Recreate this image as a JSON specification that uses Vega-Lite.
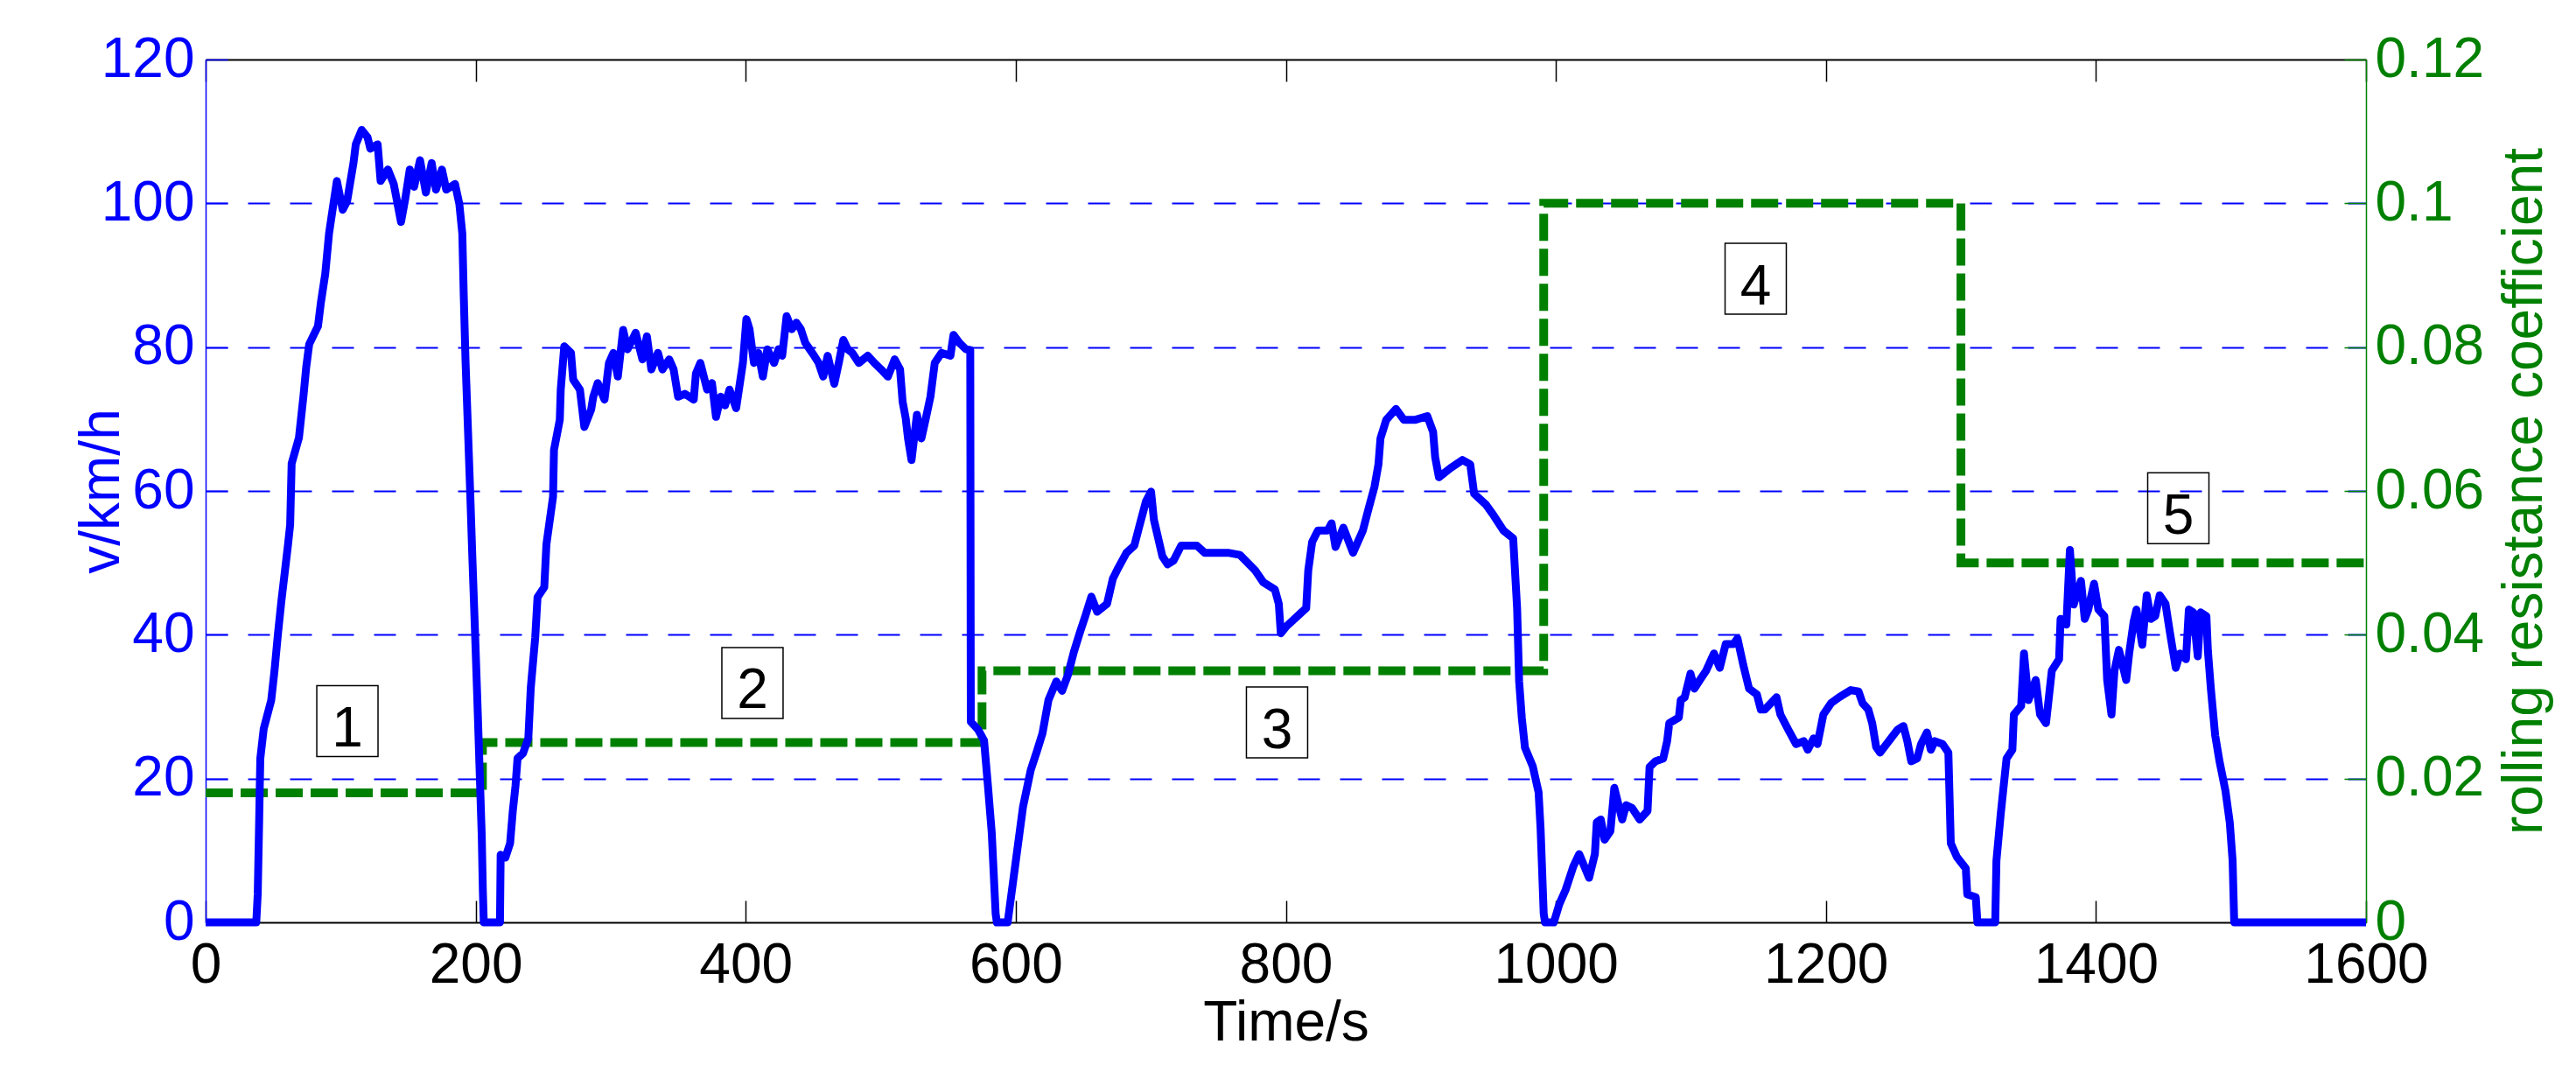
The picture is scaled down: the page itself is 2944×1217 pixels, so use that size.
{
  "$schema": "https://vega.github.io/schema/vega-lite/v6.json",
  "width": 2469,
  "height": 986,
  "autosize": {"type": "none"},
  "padding": {"left": 235, "top": 68, "right": 240, "bottom": 163},
  "background": "white",
  "config": {
    "font": "Liberation Sans",
    "view": {"stroke": null},
    "axis": {"labelFont": "Liberation Sans", "titleFont": "Liberation Sans", "labelFontSize": 64, "titleFontSize": 64, "titleFontWeight": "normal", "labelOverlap": false, "labelFlush": false, "labelBound": false}
  },
  "datasets": {
    "speed": [
      {"t":0,"v":0},{"t":37.5,"v":0},{"t":38.6,"v":4},{"t":39.5,"v":12.7},{"t":40.5,"v":22.8},{"t":43,"v":26.9},{"t":48.6,"v":30.9},{"t":51,"v":35},{"t":53.5,"v":40},{"t":56,"v":44.5},{"t":58.5,"v":48.5},{"t":61,"v":52.5},{"t":62.6,"v":55.3},{"t":63.7,"v":63.8},{"t":69.1,"v":67.4},{"t":72.4,"v":73.1},{"t":74.5,"v":77.2},{"t":76.7,"v":80.4},{"t":83.2,"v":82.9},{"t":85.3,"v":86.1},{"t":88.6,"v":90.2},{"t":91.4,"v":95.8},{"t":94,"v":99.1},{"t":97.2,"v":103.1},{"t":101.5,"v":99.1},{"t":104.8,"v":100.3},{"t":106.9,"v":102.7},{"t":109.5,"v":105.6},{"t":111.2,"v":108.2},{"t":115.6,"v":110.2},{"t":119.9,"v":109.2},{"t":122,"v":107.6},{"t":127.4,"v":108.2},{"t":129.6,"v":103.1},{"t":135,"v":104.7},{"t":139.3,"v":102.7},{"t":144.7,"v":97.4},{"t":147.9,"v":100.7},{"t":151.2,"v":104.7},{"t":154.4,"v":102.3},{"t":158.8,"v":106},{"t":163.1,"v":101.5},{"t":167.4,"v":105.6},{"t":170.6,"v":101.9},{"t":175,"v":104.7},{"t":178.2,"v":101.9},{"t":184.7,"v":102.7},{"t":187.9,"v":99.9},{"t":190.1,"v":95.8},{"t":191.2,"v":87},{"t":192.5,"v":78},{"t":194.2,"v":69},{"t":196,"v":59.5},{"t":197.5,"v":51},{"t":199.3,"v":41.5},{"t":201.1,"v":31.7},{"t":202.8,"v":21.9},{"t":204.5,"v":12},{"t":205.3,"v":4.5},{"t":206,"v":0},{"t":218,"v":0},{"t":218.5,"v":9.4},{"t":222,"v":9},{"t":225.5,"v":11},{"t":227.5,"v":15.5},{"t":229.5,"v":19},{"t":231,"v":22.8},{"t":235,"v":23.5},{"t":239,"v":25.6},{"t":240.8,"v":32.6},{"t":244.1,"v":39.6},{"t":245.8,"v":45.2},{"t":250.8,"v":46.6},{"t":252.4,"v":52.6},{"t":257.3,"v":59.2},{"t":258,"v":65.7},{"t":262.3,"v":69.9},{"t":263,"v":74.1},{"t":265.6,"v":80.1},{"t":270.6,"v":79.2},{"t":272.2,"v":75.5},{"t":277.2,"v":74.1},{"t":280.5,"v":68.9},{"t":285.5,"v":71.3},{"t":287.1,"v":73.1},{"t":290.4,"v":75},{"t":295.4,"v":72.7},{"t":298.7,"v":77.8},{"t":302,"v":79.2},{"t":305.3,"v":75.9},{"t":309.2,"v":82.4},{"t":312.5,"v":79.7},{"t":318.5,"v":82},{"t":323.5,"v":78.3},{"t":326.8,"v":81.5},{"t":330.1,"v":76.9},{"t":335,"v":79.2},{"t":338.3,"v":76.9},{"t":343.3,"v":78.3},{"t":346.6,"v":76.9},{"t":349.9,"v":73.1},{"t":354.9,"v":73.5},{"t":361.5,"v":72.7},{"t":363.1,"v":76.3},{"t":366.4,"v":77.8},{"t":371.4,"v":74.1},{"t":375,"v":75},{"t":378,"v":70.3},{"t":381.5,"v":73.1},{"t":384.7,"v":71.9},{"t":388,"v":74.1},{"t":392.9,"v":71.5},{"t":397.9,"v":77.8},{"t":400.5,"v":83.9},{"t":402.8,"v":82.5},{"t":406.1,"v":77.8},{"t":409.4,"v":79.2},{"t":412.7,"v":75.9},{"t":416,"v":79.7},{"t":421,"v":77.8},{"t":424.3,"v":79.7},{"t":427,"v":78.8},{"t":430.3,"v":84.3},{"t":434.1,"v":82.5},{"t":437.5,"v":83.4},{"t":440.8,"v":82.5},{"t":444.1,"v":80.6},{"t":447.4,"v":79.7},{"t":450.7,"v":78.8},{"t":454,"v":77.8},{"t":457.4,"v":75.9},{"t":460.7,"v":78.8},{"t":465.6,"v":74.9},{"t":468.9,"v":77.8},{"t":472.3,"v":81},{"t":475.6,"v":79.7},{"t":478.9,"v":79.2},{"t":483.8,"v":77.8},{"t":490.4,"v":78.8},{"t":495.3,"v":77.8},{"t":500.3,"v":76.9},{"t":505.3,"v":75.9},{"t":510.3,"v":78.3},{"t":514.3,"v":76.9},{"t":516.2,"v":72.4},{"t":518.5,"v":70.1},{"t":520.2,"v":67.3},{"t":522.8,"v":64.3},{"t":526.8,"v":70.6},{"t":530.1,"v":67.3},{"t":533.4,"v":70.1},{"t":536.8,"v":73.1},{"t":540,"v":77.8},{"t":545,"v":79.2},{"t":551.6,"v":78.8},{"t":553.9,"v":81.7},{"t":558.2,"v":80.6},{"t":563.1,"v":79.7},{"t":566.3,"v":79.6},{"t":566.7,"v":27.9},{"t":572.1,"v":26.8},{"t":576.5,"v":25.3},{"t":579.3,"v":19.2},{"t":582.2,"v":12.5},{"t":585.1,"v":1.2},{"t":586,"v":0},{"t":594,"v":0},{"t":598.1,"v":5.8},{"t":601,"v":9.9},{"t":605.4,"v":16.1},{"t":611.1,"v":21.2},{"t":615.5,"v":23.7},{"t":619.8,"v":26.3},{"t":624.2,"v":30.9},{"t":630,"v":33.5},{"t":634.3,"v":32.2},{"t":638.6,"v":34.4},{"t":643,"v":37.6},{"t":647.3,"v":40.2},{"t":651.7,"v":42.7},{"t":656,"v":45.3},{"t":660.3,"v":43.2},{"t":667.6,"v":44.3},{"t":671.9,"v":47.8},{"t":676.2,"v":49.4},{"t":682,"v":51.4},{"t":687.8,"v":52.4},{"t":692.1,"v":55.5},{"t":696.5,"v":58.6},{"t":700.2,"v":59.9},{"t":702.3,"v":56},{"t":708.6,"v":50.9},{"t":712.4,"v":49.8},{"t":716.8,"v":50.3},{"t":722.5,"v":52.4},{"t":734.1,"v":52.4},{"t":739.9,"v":51.4},{"t":757.2,"v":51.4},{"t":766,"v":51.1},{"t":777.5,"v":48.9},{"t":783.3,"v":47.3},{"t":791.9,"v":46.3},{"t":794.8,"v":44.3},{"t":796.3,"v":40.2},{"t":800.6,"v":41.2},{"t":809.3,"v":42.7},{"t":815.1,"v":43.7},{"t":816.6,"v":48.9},{"t":819.5,"v":52.9},{"t":823.8,"v":54.5},{"t":831,"v":54.5},{"t":833.9,"v":55.5},{"t":836.8,"v":52.2},{"t":842.6,"v":54.9},{"t":849.8,"v":51.4},{"t":857.1,"v":54.5},{"t":861.4,"v":57.6},{"t":865.7,"v":60.6},{"t":868.6,"v":63.7},{"t":870.1,"v":67.3},{"t":874.4,"v":69.9},{"t":881.6,"v":71.4},{"t":887.4,"v":69.9},{"t":896.1,"v":69.9},{"t":904.8,"v":70.4},{"t":909.1,"v":68.2},{"t":910.6,"v":64.7},{"t":913.4,"v":61.9},{"t":922.1,"v":63.2},{"t":930.8,"v":64.3},{"t":936.6,"v":63.7},{"t":939.5,"v":59.6},{"t":948.2,"v":58.1},{"t":953.9,"v":56.6},{"t":961.2,"v":54.5},{"t":968.4,"v":53.4},{"t":970,"v":48},{"t":971.3,"v":43.7},{"t":972.8,"v":33.5},{"t":974.8,"v":28.4},{"t":977.1,"v":24.3},{"t":982.9,"v":21.7},{"t":987.2,"v":18.1},{"t":988.7,"v":13},{"t":991,"v":1.2},{"t":992,"v":0},{"t":998.5,"v":0},{"t":1002.5,"v":2.5},{"t":1007.2,"v":4.5},{"t":1013,"v":7.8},{"t":1017.3,"v":9.5},{"t":1024.6,"v":6.2},{"t":1028.9,"v":9.5},{"t":1030.3,"v":13.9},{"t":1033.3,"v":14.3},{"t":1036.1,"v":11.5},{"t":1040.4,"v":12.7},{"t":1043.3,"v":18.7},{"t":1049.1,"v":14.3},{"t":1052,"v":16.3},{"t":1056.4,"v":15.9},{"t":1062.1,"v":14.3},{"t":1067.9,"v":15.5},{"t":1069.4,"v":21.6},{"t":1073.7,"v":22.4},{"t":1079.5,"v":22.8},{"t":1082.4,"v":25.2},{"t":1084,"v":27.7},{"t":1091.1,"v":28.5},{"t":1092.5,"v":30.9},{"t":1095.4,"v":31.3},{"t":1099.7,"v":34.6},{"t":1102.6,"v":32.5},{"t":1107,"v":33.8},{"t":1111.3,"v":35},{"t":1117.1,"v":37.4},{"t":1121.4,"v":35.4},{"t":1125.8,"v":38.7},{"t":1131.6,"v":38.7},{"t":1134.5,"v":39.5},{"t":1138.8,"v":35.8},{"t":1143.1,"v":32.5},{"t":1148.9,"v":31.7},{"t":1151.8,"v":29.6},{"t":1154.7,"v":29.6},{"t":1163.4,"v":31.3},{"t":1166.3,"v":28.9},{"t":1172.1,"v":26.8},{"t":1177.9,"v":24.8},{"t":1183.6,"v":25.2},{"t":1186.6,"v":24},{"t":1190.9,"v":25.6},{"t":1193.8,"v":24.8},{"t":1198.1,"v":28.9},{"t":1203.9,"v":30.5},{"t":1209.7,"v":31.3},{"t":1218.4,"v":32.3},{"t":1224.2,"v":32.1},{"t":1227.1,"v":30.5},{"t":1231.4,"v":29.6},{"t":1234.3,"v":27.7},{"t":1237.2,"v":24.4},{"t":1240.1,"v":23.6},{"t":1253.1,"v":26.8},{"t":1257.4,"v":27.3},{"t":1260.3,"v":25.2},{"t":1263.2,"v":22.4},{"t":1267.6,"v":22.8},{"t":1270.5,"v":24.8},{"t":1274.8,"v":26.4},{"t":1277.7,"v":24},{"t":1280.6,"v":25.2},{"t":1286.4,"v":24.8},{"t":1290.7,"v":23.6},{"t":1292.5,"v":11},{"t":1297,"v":9.1},{"t":1303.6,"v":7.5},{"t":1304.7,"v":3.9},{"t":1311,"v":3.5},{"t":1312.2,"v":0},{"t":1325.4,"v":0},{"t":1326.3,"v":8.6},{"t":1329.5,"v":15.1},{"t":1333.8,"v":22.8},{"t":1338.1,"v":24},{"t":1339.2,"v":28.9},{"t":1344.6,"v":30.1},{"t":1346.7,"v":37.4},{"t":1350,"v":30.9},{"t":1355.4,"v":33.7},{"t":1358.6,"v":28.9},{"t":1363,"v":27.7},{"t":1367.3,"v":35},{"t":1372.7,"v":36.6},{"t":1373.8,"v":42.2},{"t":1378.1,"v":41.4},{"t":1380.7,"v":51.8},{"t":1383.5,"v":44.2},{"t":1388.9,"v":47.5},{"t":1391.7,"v":42.2},{"t":1394.3,"v":43.5},{"t":1398.6,"v":47.1},{"t":1401.8,"v":43.5},{"t":1406.2,"v":42.6},{"t":1408.3,"v":33.7},{"t":1411.5,"v":28.9},{"t":1413.7,"v":35},{"t":1417,"v":37.9},{"t":1422.4,"v":33.7},{"t":1424.6,"v":37.4},{"t":1427.9,"v":41.8},{"t":1430,"v":43.5},{"t":1434.3,"v":38.6},{"t":1437.6,"v":45.5},{"t":1440.7,"v":42.2},{"t":1443.9,"v":42.6},{"t":1447.2,"v":45.5},{"t":1451.5,"v":44.3},{"t":1454.8,"v":40.3},{"t":1459.1,"v":35.4},{"t":1462.3,"v":37.4},{"t":1466.7,"v":36.6},{"t":1468.8,"v":43.5},{"t":1472.1,"v":43.1},{"t":1475.4,"v":37},{"t":1477.5,"v":43.1},{"t":1481.8,"v":42.6},{"t":1482.9,"v":37.8},{"t":1485.1,"v":32.5},{"t":1488.3,"v":26},{"t":1491.5,"v":22.4},{"t":1495.9,"v":18.3},{"t":1499.1,"v":13.9},{"t":1501.2,"v":8.6},{"t":1502.4,"v":0},{"t":1600,"v":0}
    ],
    "coef": [
      {"t":0,"c":0.018},{"t":205,"c":0.025},{"t":575,"c":0.035},{"t":991,"c":0.1},{"t":1300,"c":0.05},{"t":1600,"c":0.05}
    ],
    "labels": [
      {"t":105,"v":28,"n":"1"},{"t":405,"v":33.3,"n":"2"},{"t":793.5,"v":27.8,"n":"3"},{"t":1148,"v":89.5,"n":"4"},{"t":1461,"v":57.6,"n":"5"}
    ]
  },
  "layer": [
    {
      "data": {"name": "coef"},
      "mark": {"type": "line", "color": "#008000", "strokeWidth": 10, "strokeDash": [31, 9], "interpolate": "step-after"},
      "encoding": {
        "x": {"field": "t", "type": "quantitative", "scale": {"domain": [0, 1600], "nice": false, "zero": false},
              "axis": {"orient": "top", "title": null, "labels": false, "values": [0,200,400,600,800,1000,1200,1400,1600], "tickSize": -25, "tickColor": "black", "tickWidth": 1.5, "domainColor": "black", "domainWidth": 2, "grid": false}},
        "y": {"field": "c", "type": "quantitative", "scale": {"domain": [0, 0.12], "nice": false, "zero": false},
              "axis": {"orient": "right", "title": "rolling resistance coefficient", "titleColor": "#008000", "titleAngle": 270, "titleBaseline": "top", "titlePadding": 15, "values": [0,0.02,0.04,0.06,0.08,0.1,0.12], "format": ".2~f", "labelColor": "#008000", "labelPadding": 35, "tickSize": -25, "tickColor": "#008000", "tickWidth": 1.5, "domainColor": "#008000", "domainWidth": 1.5, "grid": false}}
      }
    },
    {
      "data": {"name": "speed"},
      "mark": {"type": "line", "color": "#0000FF", "strokeWidth": 9, "strokeJoin": "round"},
      "encoding": {
        "x": {"field": "t", "type": "quantitative", "scale": {"domain": [0, 1600], "nice": false, "zero": false},
              "axis": {"orient": "bottom", "title": "Time/s", "titleColor": "black", "titlePadding": 2, "values": [0,200,400,600,800,1000,1200,1400,1600], "format": "d", "labelColor": "black", "labelPadding": 42, "tickSize": -25, "tickColor": "black", "tickWidth": 1.5, "domainColor": "black", "domainWidth": 2, "grid": false}},
        "y": {"field": "v", "type": "quantitative", "scale": {"domain": [0, 120], "nice": false, "zero": false},
              "axis": {"orient": "left", "title": "v/km/h", "titleColor": "#0000FF", "titlePadding": -33, "values": [0,20,40,60,80,100,120], "labelColor": "#0000FF", "labelPadding": 38, "tickSize": -25, "tickColor": "#0000FF", "tickWidth": 1.5, "domainColor": "#0000FF", "domainWidth": 1.5,
                       "grid": true, "gridColor": "#0000FF", "gridDash": [25, 23], "gridWidth": 2,
                       "gridOpacity": {"condition": {"test": "datum.value === 0 || datum.value === 120", "value": 0}, "value": 1}}}
      }
    },
    {
      "data": {"name": "labels"},
      "mark": {"type": "point", "shape": "M-0.864,-1H0.864V1H-0.864Z", "size": 6561, "filled": false, "stroke": "black", "strokeWidth": 1.5, "opacity": 1},
      "encoding": {
        "x": {"field": "t", "type": "quantitative", "scale": {"domain": [0, 1600], "nice": false, "zero": false}, "axis": null},
        "y": {"field": "v", "type": "quantitative", "scale": {"domain": [0, 120], "nice": false, "zero": false}, "axis": null}
      }
    },
    {
      "data": {"name": "labels"},
      "mark": {"type": "text", "fontSize": 64, "font": "Liberation Sans", "color": "black", "baseline": "middle", "align": "center", "dy": 10},
      "encoding": {
        "x": {"field": "t", "type": "quantitative", "scale": {"domain": [0, 1600], "nice": false, "zero": false}, "axis": null},
        "y": {"field": "v", "type": "quantitative", "scale": {"domain": [0, 120], "nice": false, "zero": false}, "axis": null},
        "text": {"field": "n"}
      }
    }
  ],
  "resolve": {"scale": {"y": "independent"}, "axis": {"x": "independent", "y": "independent"}}
}
